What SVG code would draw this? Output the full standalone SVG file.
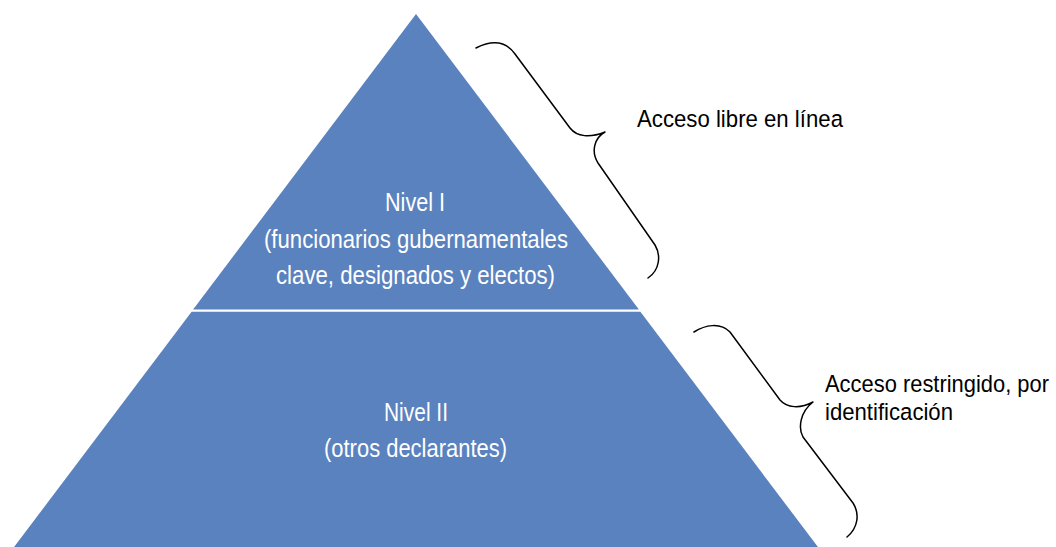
<svg xmlns="http://www.w3.org/2000/svg" width="1056" height="547" viewBox="0 0 1056 547">
<style>
.lvl{fill:#5a82be;stroke:none}
.wt{fill:#ffffff;font-family:"Liberation Sans Narrow","Liberation Sans",Arial,sans-serif;font-size:25.5px;text-anchor:middle}
.bt{fill:#000000;font-family:"Liberation Sans","Arial",sans-serif;font-size:24.5px}
.brace{fill:none;stroke:#000000;stroke-width:1.5;stroke-linecap:round;stroke-linejoin:round}
</style>
<rect width="1056" height="547" fill="#ffffff"/>
<g id="nivel1">
<polygon class="lvl" points="416,14 638.9,309.5 193.1,309.5"/>
<text class="wt" x="415" y="211" textLength="60" lengthAdjust="spacingAndGlyphs">Nivel I</text>
<text class="wt" x="416" y="248" textLength="304" lengthAdjust="spacingAndGlyphs">(funcionarios gubernamentales</text>
<text class="wt" x="415.5" y="284" textLength="279" lengthAdjust="spacingAndGlyphs">clave, designados y electos)</text>
</g>
<g id="nivel2">
<polygon class="lvl" points="191.6,311.8 640.4,311.8 818.7,548 13.3,548"/>
<text class="wt" x="416" y="421" textLength="64" lengthAdjust="spacingAndGlyphs">Nivel II</text>
<text class="wt" x="415.5" y="457" textLength="183" lengthAdjust="spacingAndGlyphs">(otros declarantes)</text>
</g>
<g id="connectors">
<path class="brace" d="M476,48 C490,41 505,40 515,54 L570,128 C577,137 590,138 605,132 C594,138 591,152 598,163 L655,245 C661,255 660,270 648,278"/>
<path class="brace" d="M694,332 C705,325 720,322 730,332 L780,400 C787,408 800,409 813,402 C800,412 798,428 803,437 L853,503 C860,514 858,528 847,537"/>
</g>
<g id="label1">
<text class="bt" x="637" y="127" textLength="206" lengthAdjust="spacingAndGlyphs">Acceso libre en línea</text>
</g>
<g id="label2">
<text class="bt" x="825" y="391.5" textLength="224" lengthAdjust="spacingAndGlyphs">Acceso restringido, por</text>
<text class="bt" x="825" y="420" textLength="128" lengthAdjust="spacingAndGlyphs">identificación</text>
</g>
</svg>
